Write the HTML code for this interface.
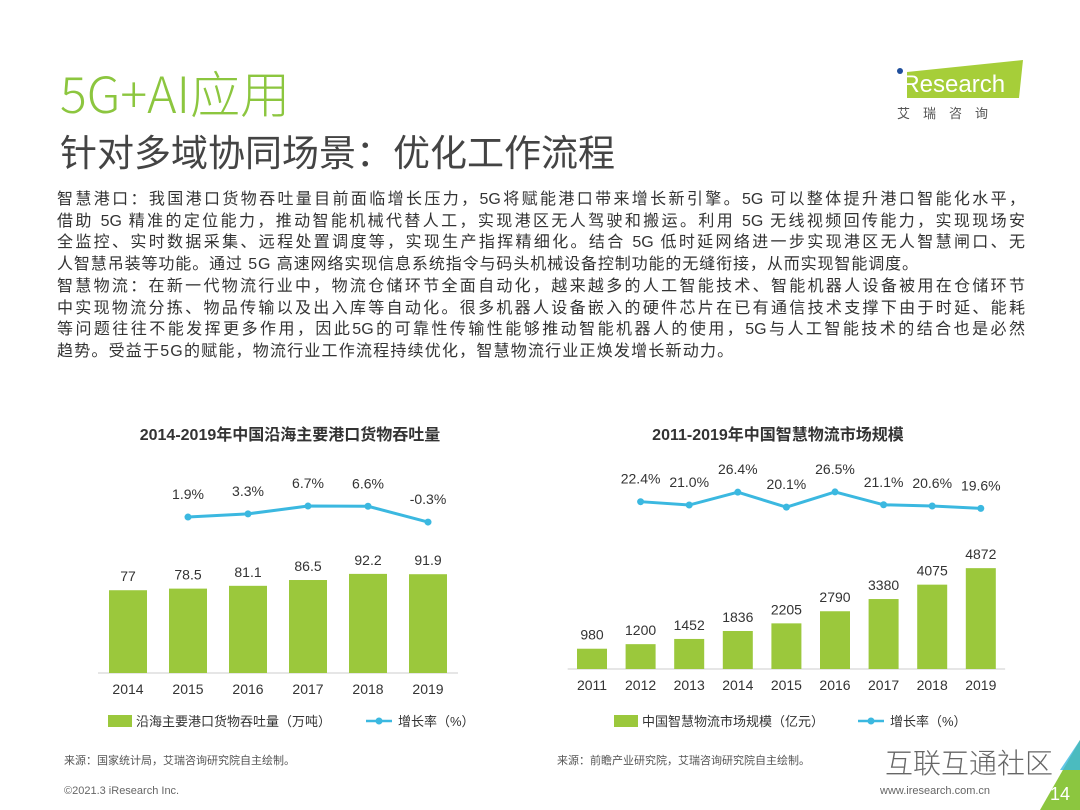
<!DOCTYPE html>
<html><head><meta charset="utf-8">
<style>
body{margin:0;width:1080px;height:810px;background:#fff;overflow:hidden;position:relative;font-family:"Liberation Sans","Noto Sans CJK SC",sans-serif;}
.abs{position:absolute;}
.t1{left:60px;top:62px;font-size:50px;color:#8cc63f;font-family:"Noto Sans CJK SC",sans-serif;font-weight:300;line-height:60px;}
.t2{left:60px;top:124px;font-size:37px;color:#444;font-family:"Noto Sans CJK SC",sans-serif;font-weight:400;line-height:52px;}
.body{left:57px;top:189px;width:968px;font-size:16px;color:#333;line-height:21.7px;}
.body div{white-space:nowrap;text-align:justify;text-align-last:justify;}
.body div.l{text-align-last:left;}
svg text{font-family:"Liberation Sans","Noto Sans CJK SC",sans-serif;}
</style></head><body>
<div class="abs t1">5G+AI应用</div>
<div class="abs t2">针对多域协同场景：优化工作流程</div>
<div class="abs" style="left:895px;top:58px;width:130px;height:66px;">
<svg width="130" height="66"><polygon points="12,14 128,2 124,40 12,40" fill="#a6ce39"/><circle cx="5" cy="13" r="3" fill="#1f4e9c"/><text x="2" y="34" font-size="24" fill="#fff" font-family="Liberation Sans">iResearch</text><text x="2" y="60" font-size="13" fill="#555" letter-spacing="13">艾瑞咨询</text></svg></div>
<div class="abs body">
<div>智慧港口：我国港口货物吞吐量目前面临增长压力，5G将赋能港口带来增长新引擎。5G 可以整体提升港口智能化水平，</div>
<div>借助 5G 精准的定位能力，推动智能机械代替人工，实现港区无人驾驶和搬运。利用 5G 无线视频回传能力，实现现场安</div>
<div>全监控、实时数据采集、远程处置调度等，实现生产指挥精细化。结合 5G 低时延网络进一步实现港区无人智慧闸口、无</div>
<div class="l" style="letter-spacing:0.9px">人智慧吊装等功能。通过 5G 高速网络实现信息系统指令与码头机械设备控制功能的无缝衔接，从而实现智能调度。</div>
<div>智慧物流：在新一代物流行业中，物流仓储环节全面自动化，越来越多的人工智能技术、智能机器人设备被用在仓储环节</div>
<div>中实现物流分拣、物品传输以及出入库等自动化。很多机器人设备嵌入的硬件芯片在已有通信技术支撑下由于时延、能耗</div>
<div>等问题往往不能发挥更多作用，因此5G的可靠性传输性能够推动智能机器人的使用，5G与人工智能技术的结合也是必然</div>
<div class="l" style="letter-spacing:1.2px">趋势。受益于5G的赋能，物流行业工作流程持续优化，智慧物流行业正焕发增长新动力。</div>
</div>
<svg class="abs" style="left:0;top:0" width="1080" height="810" id="ch"></svg>
<div class="abs" style="left:64px;top:752px;font-size:11px;color:#555;">来源：国家统计局，艾瑞咨询研究院自主绘制。</div>
<div class="abs" style="left:557px;top:752px;font-size:11px;color:#555;">来源：前瞻产业研究院，艾瑞咨询研究院自主绘制。</div>
<div class="abs" style="left:885px;top:742px;font-size:28px;color:#666;font-family:'Noto Sans CJK SC',sans-serif;font-weight:300;">互联互通社区</div>
<div class="abs" style="left:64px;top:785px;font-size:11px;color:#666;">©2021.3 iResearch Inc.</div>
<div class="abs" style="left:880px;top:785px;font-size:11px;color:#666;">www.iresearch.com.cn</div>
<svg class="abs" style="left:1030px;top:740px" width="50" height="70"><polygon points="50,0 50,70 10,70" fill="#8cc63f"/><polygon points="50,0 50,30 30,30" fill="#3bb8e0" opacity="0.8"/><text x="20" y="60" font-size="18" fill="#fff">14</text></svg>
<script>
const portYears=["2014","2015","2016","2017","2018","2019"];
const portVolume=[77,78.5,81.1,86.5,92.2,91.9];
const portGrowth=[null,1.9,3.3,6.7,6.6,-0.3];
const logiYears=["2011","2012","2013","2014","2015","2016","2017","2018","2019"];
const logiSize=[980,1200,1452,1836,2205,2790,3380,4075,4872];
const logiGrowth=[null,22.4,21.0,26.4,20.1,26.5,21.1,20.6,19.6];
const svg=document.getElementById('ch');const NS='http://www.w3.org/2000/svg';
function mk(t,a,txt){const e=document.createElementNS(NS,t);for(const k in a)e.setAttribute(k,a[k]);if(txt!==undefined)e.textContent=txt;svg.appendChild(e);return e;}
const GREEN='#9bc83c',BLUE='#3bb8e0';
function chart(o){
  let e=mk('text',{x:o.cx,y:o.ty,'font-size':16,'font-weight':'bold','text-anchor':'middle',fill:'#333'},o.title);
  
  const xs=i=>o.x0+i*o.dx;
  e=mk('line',{x1:o.x0-o.dx/2,x2:xs(o.cats.length-1)+o.dx/2,y1:o.base,y2:o.base,stroke:'#ccc'});
  
  o.vals.forEach((v,i)=>{const h=v*o.k;
    e=mk('rect',{x:xs(i)-o.bw/2,y:o.base-h,width:o.bw,height:h,fill:GREEN});
    
    e=mk('text',{x:xs(i),y:o.base-h-9,'font-size':14,'text-anchor':'middle',fill:'#333'},String(v));
    
    e=mk('text',{x:xs(i),y:o.base+21,'font-size':14,'text-anchor':'middle',fill:'#333'},o.cats[i]);
    
  });
  const ly=v=>o.la-o.lb*v;let pts=[];
  o.gr.forEach((v,i)=>{if(v===null)return;pts.push(xs(i)+','+ly(v));});
  e=mk('polyline',{points:pts.join(' '),fill:'none',stroke:BLUE,'stroke-width':3});
  
  o.gr.forEach((v,i)=>{if(v===null)return;
    e=mk('circle',{cx:xs(i),cy:ly(v),r:3.5,fill:BLUE});
    
    e=mk('text',{x:xs(i),y:ly(v)-18,'font-size':14,'text-anchor':'middle',fill:'#333'},v.toFixed(1)+'%');
    
  });
  const lx=o.legx;
  e=mk('rect',{x:lx,y:o.legy-6,width:24,height:12,fill:GREEN});
  
  e=mk('text',{x:lx+28,y:o.legy+5,'font-size':13,fill:'#333'},o.leg1);
  
  e=mk('line',{x1:o.leg2x,x2:o.leg2x+26,y1:o.legy,y2:o.legy,stroke:BLUE,'stroke-width':2.5});
  
  e=mk('circle',{cx:o.leg2x+13,cy:o.legy,r:3.5,fill:BLUE});
  e=mk('text',{x:o.leg2x+32,y:o.legy+5,'font-size':13,fill:'#333'},'增长率（%）');
  
}
chart({title:'2014-2019年中国沿海主要港口货物吞吐量',cx:290,ty:440,cats:portYears,vals:portVolume,gr:portGrowth,x0:128,dx:60,bw:38,base:673,k:1.075,la:521.4,lb:2.29,legx:108,legy:721,leg1:'沿海主要港口货物吞吐量（万吨）',leg2x:366});
chart({title:'2011-2019年中国智慧物流市场规模',cx:778,ty:440,cats:logiYears,vals:logiSize,gr:logiGrowth,x0:592,dx:48.6,bw:30,base:669,k:0.0207,la:555,lb:2.38,legx:614,legy:721,leg1:'中国智慧物流市场规模（亿元）',leg2x:858});
</script>
</body></html>
